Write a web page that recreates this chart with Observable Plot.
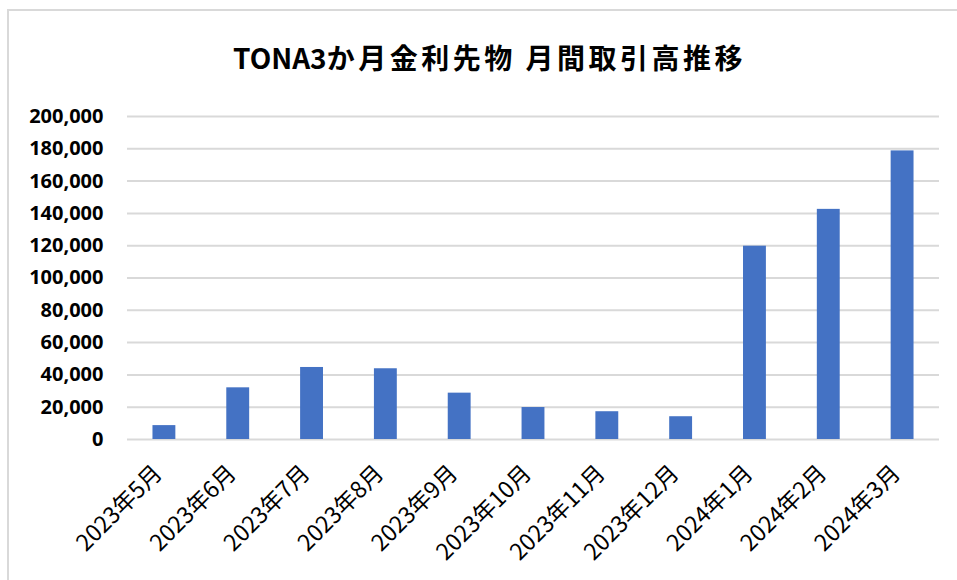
<!DOCTYPE html>
<html>
<head>
<meta charset="utf-8">
<script src="https://cdn.jsdelivr.net/npm/d3@7"></script>
<script src="https://cdn.jsdelivr.net/npm/@observablehq/plot@0.6"></script>
<style>
  html, body { margin: 0; padding: 0; background: #fff; overflow: hidden; }
  #wrap { position: relative; width: 957px; height: 580px; overflow: hidden; background: #fff; }
  #frame { position: absolute; left: 7px; top: 9px; width: 1000px; height: 700px; border-left: 2px solid #d9d9d9; border-top: 2px solid #d9d9d9; }
  #title { position: absolute; left: 0; top: 0; width: 957px; height: 80px; }
  #title h2 { margin: 0; position: absolute; left: 233px; top: 37px; font-family: "Noto Sans CJK JP", sans-serif; font-weight: bold; font-size: 28px; line-height: 40px; color: #000; white-space: nowrap; }
  #title h2 .cjk { letter-spacing: 3.5px; }
  #chart { position: absolute; left: 0; top: 80px; }
</style>
</head>
<body>
<div id="wrap">
  <div id="frame"></div>
  <div id="title"><h2>TONA3<span class="cjk">か月金利先物 月間取引高推移</span></h2></div>
  <div id="chart"></div>
</div>
<script>
const months = ["2023年5月","2023年6月","2023年7月","2023年8月","2023年9月","2023年10月","2023年11月","2023年12月","2024年1月","2024年2月","2024年3月"];
const volumes = [8600, 32000, 44600, 43800, 28700, 19800, 17200, 14100, 119700, 142500, 178700];
const yTicks = [0, 20000, 40000, 60000, 80000, 100000, 120000, 140000, 160000, 180000, 200000];

const data = months.map((m, i) => ({month: m, volume: volumes[i]}));
const fmt = d3.format(",");

const chart = Plot.plot({
  width: 957,
  height: 500,
  marginLeft: 127,
  marginRight: 18,
  marginTop: 36,
  marginBottom: 141,
  style: {fontFamily: "'Noto Sans CJK JP', sans-serif", color: "#000", background: "transparent"},
  x: {domain: months, paddingInner: 0.69, paddingOuter: 0.345, round: false, label: null, axis: null},
  y: {domain: [0, 200000], label: null, axis: null},
  marks: [
    Plot.gridY(yTicks, {stroke: "#d9d9d9", strokeOpacity: 1, strokeWidth: 2}),
    Plot.barY(data, {x: "month", y: "volume", fill: "#4472c4"}),
    Plot.axisY(yTicks, {tickSize: 0, tickPadding: 24, tickFormat: fmt, fontSize: 20, fontWeight: "bold", fontFamily: "'Noto Sans', sans-serif", label: null}),
    Plot.axisX({tickSize: 0, tickPadding: 30, dx: -6, tickRotate: -45, fontSize: 23, label: null})
  ]
});
document.getElementById("chart").appendChild(chart);
</script>
</body>
</html>
